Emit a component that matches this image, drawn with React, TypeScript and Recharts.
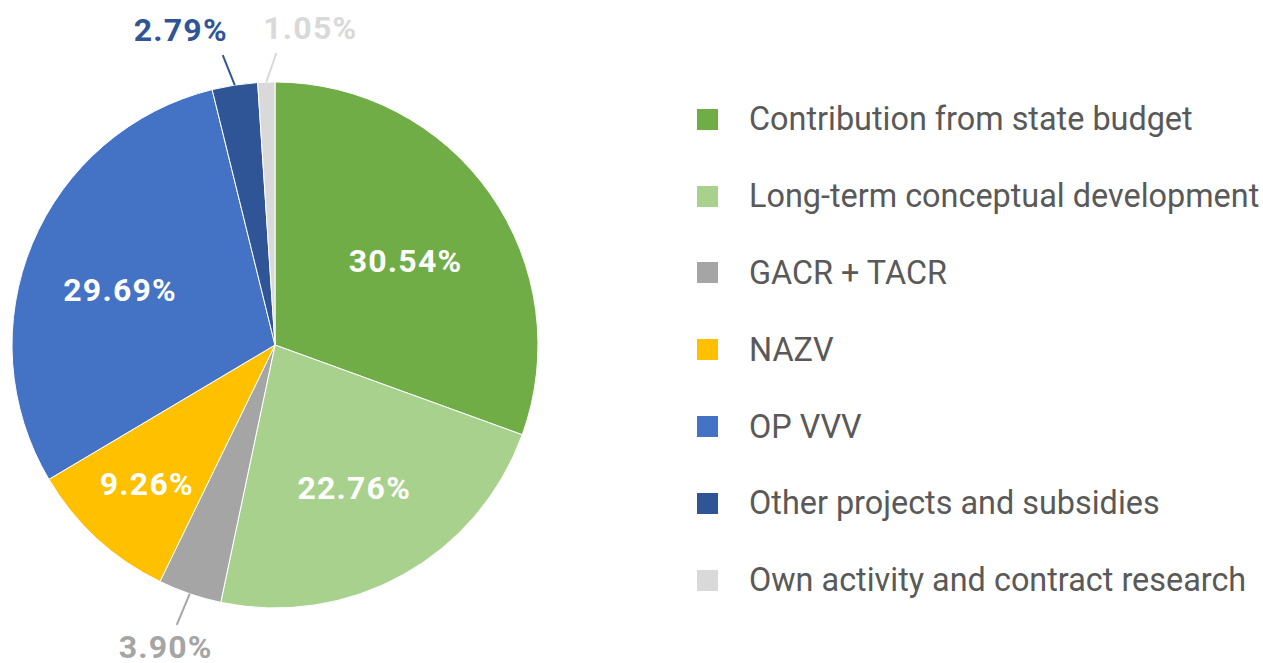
import { PieChart, Pie, Cell } from "recharts";

const categories = [
  "Contribution from state budget",
  "Long-term conceptual development",
  "GACR + TACR",
  "NAZV",
  "OP VVV",
  "Other projects and subsidies",
  "Own activity and contract research",
];
const shares = [30.54, 22.76, 3.9, 9.26, 29.69, 2.79, 1.05];
const colors = ["#70AD47", "#A9D18E", "#A5A5A5", "#FFC000", "#4472C4", "#2F5597", "#D9D9D9"];

const data = categories.map((name, i) => ({ name, value: shares[i] }));

// label placement (style only): inside radius factor + angle nudge, or leader offsets for small slices
const inside: Record<number, { r: number; a: number }> = {
  0: { r: 0.59, a: -2.3 },
  1: { r: 0.62, a: 0 },
  3: { r: 0.72, a: 0 },
  4: { r: 0.625, a: 3.2 },
};
const outside: Record<number, { lx: number; ly: number; tx: number; ty: number }> = {
  2: { lx: -13, ly: 31, tx: -24, ty: 53 },
  5: { lx: -12, ly: -30, tx: -54, ty: -55 },
  6: { lx: 10, ly: -29, tx: 44, ty: -54 },
};

const RAD = Math.PI / 180;
const FONT = "Roboto, 'Noto Sans', sans-serif";

function renderLabel(props: any) {
  const { cx, cy, midAngle, outerRadius, index, value } = props;
  const text = `${value.toFixed(2)}%`;
  const common = {
    textAnchor: "middle" as const,
    dominantBaseline: "central" as const,
    fontFamily: FONT,
    fontWeight: 700,
    fontSize: 32,
    letterSpacing: 1.2,
  };
  if (outside[index]) {
    const o = outside[index];
    const ex = cx + outerRadius * Math.cos(-midAngle * RAD);
    const ey = cy + outerRadius * Math.sin(-midAngle * RAD);
    const c = colors[index];
    return (
      <g key={`l${index}`}>
        <line x1={ex} y1={ey} x2={ex + o.lx} y2={ey + o.ly} stroke={c} strokeWidth={2} />
        <text x={ex + o.tx} y={ey + o.ty} fill={c} {...common}>
          {text}
        </text>
      </g>
    );
  }
  const p = inside[index] ?? { r: 0.6, a: 0 };
  const ang = (midAngle + p.a) * RAD;
  const r = outerRadius * p.r;
  return (
    <text key={`l${index}`} x={cx + r * Math.cos(-ang)} y={cy + r * Math.sin(-ang)} fill="#FFFFFF" {...common}>
      {text}
    </text>
  );
}

export default function App() {
  return (
    <div style={{ position: "relative", width: 1263, height: 663, overflow: "hidden", background: "#fff" }}>
      <style>{`body{margin:0;overflow:hidden}`}</style>
      <PieChart width={1263} height={663} margin={{ top: 0, right: 0, bottom: 0, left: 0 }}>
        <Pie
          data={data}
          dataKey="value"
          nameKey="name"
          cx={275}
          cy={345}
          outerRadius={263}
          startAngle={90}
          endAngle={-270}
          stroke="#FFFFFF"
          strokeWidth={1}
          label={renderLabel}
          labelLine={false}
          isAnimationActive={false}
        >
          {data.map((d, i) => (
            <Cell key={d.name} fill={colors[i]} />
          ))}
        </Pie>
      </PieChart>
      <div
        style={{
          position: "absolute",
          left: 697,
          top: 81,
          fontFamily: FONT,
          fontSize: 32.4,
          color: "#595959",
        }}
      >
        {categories.map((name, i) => (
          <div key={name} style={{ display: "flex", alignItems: "center", height: 76.8 }}>
            <span style={{ width: 21, height: 21, background: colors[i], marginRight: 31, flexShrink: 0 }} />
            <span style={{ whiteSpace: "nowrap", flexShrink: 0 }}>{name}</span>
          </div>
        ))}
      </div>
    </div>
  );
}
